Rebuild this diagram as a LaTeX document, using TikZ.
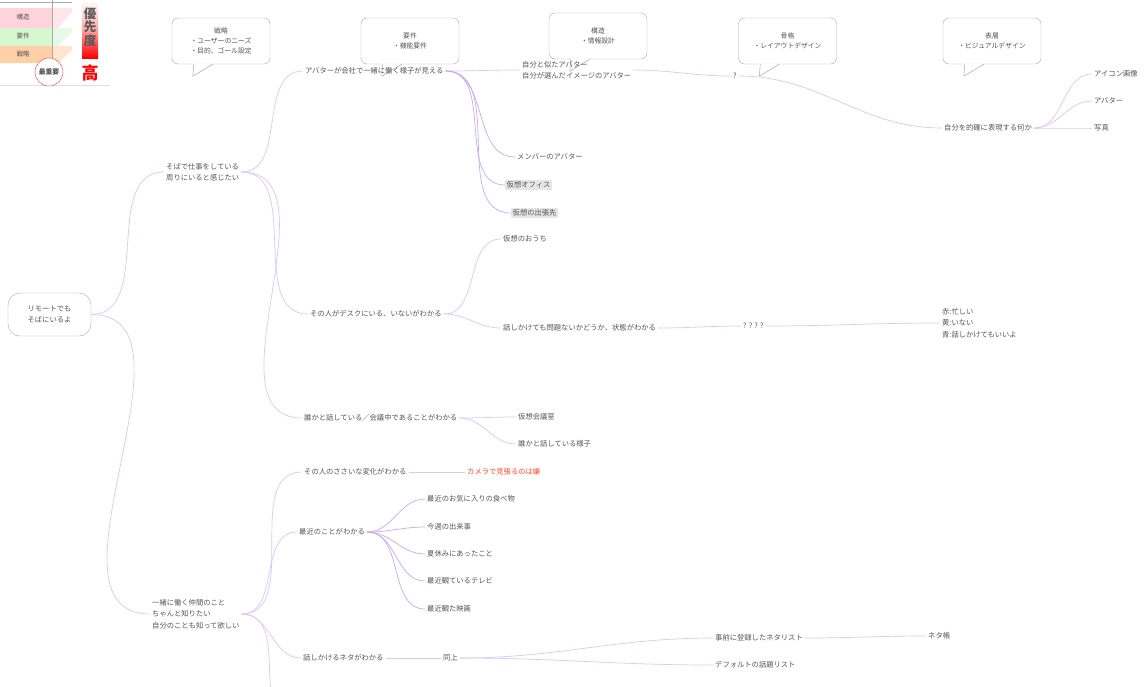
\documentclass[tikz,border=0pt]{standalone}
\usepackage{fontspec}
\setmainfont{Noto Sans CJK JP}
\usetikzlibrary{calc}
\definecolor{txt}{HTML}{555555}
\definecolor{conn}{HTML}{DCC6FA}
\definecolor{connd}{HTML}{C8AAF5}
\definecolor{bord}{HTML}{AAAAAA}
\definecolor{hl}{HTML}{E6E6E6}
\definecolor{warn}{HTML}{FF4A2A}
\definecolor{bpink}{HTML}{FFD3DC}
\definecolor{bgreen}{HTML}{D6F7D0}
\definecolor{borange}{HTML}{FFCFA6}
\begin{document}
\begin{tikzpicture}[x=1pt,y=-1pt,
  lbl/.style={anchor=west,text=txt,font=\fontsize{7.3}{11.5}\selectfont,inner sep=2pt,align=left},
  hlbl/.style={lbl,fill=hl,inner sep=1.5pt},
  link/.style={draw=conn,line width=0.7pt},
  linkd/.style={draw=connd,line width=0.7pt},
  callout/.style={draw=bord,fill=white,rounded corners=6pt,minimum width=98pt,minimum height=46pt,align=center,text=txt,font=\fontsize{6.8}{10}\selectfont},
  legtxt/.style={text=txt,font=\fontsize{6.5}{8}\selectfont,inner sep=0pt}
]
\clip (0,0) rectangle (1145,686);
\fill[white] (0,0) rectangle (1145,686);

% ---------- legend ----------
\fill[bpink] (0,8) -- (72,8) -- (72,12) -- (58,28) -- (0,28) -- cycle;
\fill[bgreen] (0,28) -- (72,28) -- (72,32) -- (58,46) -- (0,46) -- cycle;
\fill[borange] (0,46) -- (72,46) -- (72,50) -- (58,63) -- (0,63) -- cycle;
\fill[white,opacity=0.45] (52,8) -- (72,8) -- (72,50) -- (58,63) -- (52,63) -- cycle;
\draw[bord,line width=0.4pt] (0,2) -- (72,2);
\draw[bord,line width=0.4pt] (52,0) -- (52,63);
\draw[black!12,line width=1pt] (0,85) -- (110,85);
\node[legtxt] (lg1) at (23,17) {構造};
\node[legtxt] (lg2) at (23,36) {要件};
\node[legtxt] (lg3) at (23,54) {戦略};
\node[draw=red!80,fill=white,circle,minimum size=28pt,inner sep=0pt,legtxt,font=\fontsize{6.8}{8}\selectfont\bfseries] (imp) at (49,72) {最重要};
\shade[top color=white,bottom color=red,middle color=red!35] (82,0) rectangle (98,58);
\node[text=black!65,font=\fontsize{12.5}{13.5}\selectfont\bfseries,align=center,inner sep=0pt] (prio) at (90,27) {優\\先\\度};
\node[text=red,font=\fontsize{17}{18}\selectfont\bfseries,inner sep=0pt] (high) at (90,73) {高};

% ---------- callouts ----------
\newcommand{\callout}[5]{%
  \node[callout] (#1) at (#2,#3) {#4};
  \path[fill=white] ($(#1.south west)+(21,-0.8)$) -- ($(#1.south west)+(21,12)$) -- ($(#1.south west)+(41,-0.8)$) -- cycle;
  \draw[bord,line width=0.5pt] ($(#1.south west)+(22,0)$) -- ($(#1.south west)+(21,12)$) -- ($(#1.south west)+(41,0)$);
}
\callout{c1}{221}{41}{戦略\\・ユーザーのニーズ\\・目的、ゴール設定}{}
\callout{c2}{410}{41}{要件\\・機能要件}{}
\callout{c3}{598}{36}{構造\\・情報設計}{}
\callout{c4}{787.5}{41}{骨格\\・レイアウトデザイン}{}
\callout{c5}{992}{41}{表層\\・ビジュアルデザイン}{}

% ---------- nodes ----------
\node[draw=bord,rounded corners=12pt,minimum width=83pt,minimum height=43pt,align=center,text=txt,font=\fontsize{7.3}{11.5}\selectfont] (root) at (49.5,314.5) {リモートでも\\そばにいるよ};

\node[lbl] (A) at (164,172) {そばで仕事をしている\\周りにいると感じたい};
\node[lbl] (B) at (150,614) {一緒に働く仲間のこと\\ちゃんと知りたい\\自分のことも知って欲しい};

\node[lbl] (A1) at (303,71) {アバターが会社で一緒に働く様子が見える};
\node[lbl] (A2) at (308,314) {その人がデスクにいる、いないがわかる};
\node[lbl] (A3) at (302,418) {誰かと話している／会議中であることがわかる};

\node[lbl] (a11) at (520,70) {自分と似たアバター\\自分が選んだイメージのアバター};
\node[lbl] (a12) at (515,157) {メンバーのアバター};
\node[hlbl] (a13) at (505,185) {仮想オフィス};
\node[hlbl] (a14) at (511,213) {仮想の出張先};
\node[lbl] (q) at (731,76) {?};
\node[lbl] (self) at (942,128) {自分を的確に表現する何か};
\node[lbl] (icon) at (1092,74) {アイコン画像};
\node[lbl] (avt) at (1092,101) {アバター};
\node[lbl] (photo) at (1092,128) {写真};

\node[lbl] (house) at (501,239) {仮想のおうち};
\node[lbl] (status) at (501,328) {話しかけても問題ないかどうか、状態がわかる};
\node[lbl] (qqqq) at (741,326) {? ? ? ?};
\node[lbl] (colors) at (940,323) {赤:忙しい\\黄:いない\\青:話しかけてもいいよ};

\node[lbl] (room) at (516,417) {仮想会議室};
\node[lbl] (talk) at (516,444) {誰かと話している様子};

\node[lbl] (B1) at (302,472) {その人のささいな変化がわかる};
\node[lbl,text=warn] (cam) at (465,472) {カメラで見張るのは嫌};
\node[lbl] (B2) at (297,532) {最近のことがわかる};
\node[lbl] (b21) at (425,499) {最近のお気に入りの食べ物};
\node[lbl] (b22) at (425,527) {今週の出来事};
\node[lbl] (b23) at (425,554) {夏休みにあったこと};
\node[lbl] (b24) at (425,581) {最近観ているテレビ};
\node[lbl] (b25) at (425,609) {最近観た映画};
\node[lbl] (B3) at (301,658) {話しかけるネタがわかる};
\node[lbl] (same) at (441,658) {同上};
\node[lbl] (neta) at (713,638) {事前に登録したネタリスト};
\node[lbl] (netacho) at (926,636) {ネタ帳};
\node[lbl] (deflt) at (713,665) {デフォルトの話題リスト};
\coordinate (B4) at (272,700);

% ---------- connectors ----------
\draw[link] (root.east) to[out=0,in=180] (A.west);
\draw[link] (root.east) to[out=0,in=180] (B.west);

\draw[link] (A.east) to[out=0,in=180] (A1.west);
\draw[link] (A.east) to[out=0,in=180] (A2.west);
\draw[link] (A.east) to[out=0,in=180] (A3.west);

\draw[link] (A1.east) to[out=0,in=180] (a11.west);
\draw[linkd] (A1.east) to[out=0,in=180] (a12.west);
\draw[linkd] (A1.east) to[out=0,in=180] (a13.west);
\draw[linkd] (A1.east) to[out=0,in=180] (a14.west);
\draw[link] (a11.east) to[out=0,in=180] (q.west);
\draw[link] (q.east) to[out=0,in=180] (self.west);
\draw[link] (self.east) to[out=0,in=180] (icon.west);
\draw[link] (self.east) to[out=0,in=180] (avt.west);
\draw[link] (self.east) to[out=0,in=180] (photo.west);

\draw[link] (A2.east) to[out=0,in=180] (house.west);
\draw[link] (A2.east) to[out=0,in=180] (status.west);
\draw[link] (status.east) to[out=0,in=180] (qqqq.west);
\draw[link] (qqqq.east) to[out=0,in=180] (colors.west);

\draw[link] (A3.east) to[out=0,in=180] (room.west);
\draw[link] (A3.east) to[out=0,in=180] (talk.west);

\draw[link] (B.east) to[out=0,in=180] (B1.west);
\draw[link] (B.east) to[out=0,in=180] (B2.west);
\draw[link] (B.east) to[out=0,in=180] (B3.west);
\draw[link] (B.east) to[out=0,in=100] (B4);
\draw[link] (B1.east) to[out=0,in=180] (cam.west);
\draw[linkd] (B2.east) to[out=0,in=180] (b21.west);
\draw[linkd] (B2.east) to[out=0,in=180] (b22.west);
\draw[linkd] (B2.east) to[out=0,in=180] (b23.west);
\draw[linkd] (B2.east) to[out=0,in=180] (b24.west);
\draw[linkd] (B2.east) to[out=0,in=180] (b25.west);
\draw[link] (B3.east) to[out=0,in=180] (same.west);
\draw[link] (same.east) to[out=0,in=180] (neta.west);
\draw[link] (same.east) to[out=0,in=180] (deflt.west);
\draw[link] (neta.east) to[out=0,in=180] (netacho.west);
\end{tikzpicture}
\end{document}
